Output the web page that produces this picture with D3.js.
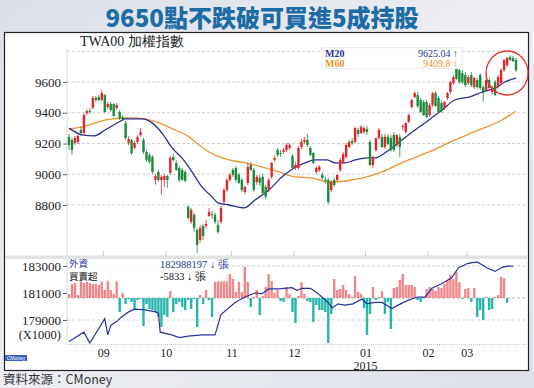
<!DOCTYPE html>
<html>
<head>
<meta charset="utf-8">
<script src="https://cdn.jsdelivr.net/npm/d3@7"></script>
<style>
  body { margin: 0; background: #e3e5ed; }
  svg { display: block; }
</style>
</head>
<body>
<div id="svg-area"></div>
<script>
// daily TWA00 candles: [open, high, low, close]
var candles = [
  [9243, 9262, 9158, 9190], [9223, 9236, 9125, 9158], [9204, 9249, 9190, 9236], [9210, 9268, 9197, 9249],
  [9288, 9308, 9249, 9268], [9268, 9398, 9255, 9385], [9398, 9424, 9385, 9411], [9411, 9431, 9392, 9405],
  [9431, 9509, 9424, 9496], [9496, 9509, 9470, 9483], [9502, 9515, 9476, 9483], [9483, 9548, 9476, 9528],
  [9515, 9522, 9398, 9405], [9437, 9470, 9424, 9457], [9457, 9470, 9405, 9418], [9457, 9463, 9372, 9379],
  [9431, 9463, 9418, 9450], [9405, 9418, 9353, 9366], [9372, 9385, 9346, 9360], [9333, 9346, 9223, 9236],
  [9204, 9249, 9190, 9229], [9223, 9229, 9125, 9138], [9171, 9216, 9158, 9204], [9210, 9255, 9197, 9243],
  [9255, 9301, 9243, 9275], [9223, 9236, 9132, 9145], [9145, 9158, 9080, 9093], [9125, 9138, 9067, 9080],
  [9113, 9125, 9002, 9015], [8963, 9002, 8930, 8989], [9015, 9028, 8950, 8963], [8963, 8996, 8866, 8983],
  [8963, 9002, 8918, 8989], [8989, 8996, 8911, 8963], [9009, 9119, 8996, 9106], [9113, 9132, 9080, 9093],
  [9074, 9093, 9022, 9028], [9041, 9054, 8950, 8963], [9028, 9041, 8957, 8963], [9015, 9028, 8950, 8957],
  [8788, 8801, 8703, 8716], [8690, 8781, 8677, 8768], [8736, 8749, 8625, 8651], [8638, 8651, 8489, 8541],
  [8573, 8671, 8554, 8651], [8664, 8677, 8573, 8599], [8664, 8703, 8645, 8677], [8729, 8781, 8723, 8755],
  [8742, 8762, 8710, 8736], [8736, 8749, 8677, 8690], [8671, 8703, 8612, 8625], [8690, 8794, 8677, 8781],
  [8820, 8911, 8807, 8898], [8898, 8976, 8885, 8963], [8963, 9009, 8950, 8996], [9028, 9041, 8983, 8996],
  [9041, 9054, 8950, 8963], [8996, 9009, 8937, 8944], [8963, 8976, 8885, 8898], [8885, 8924, 8872, 8918],
  [8944, 9074, 8930, 9048], [9060, 9080, 9022, 9028], [9028, 9041, 8885, 8898], [8950, 8996, 8930, 8983],
  [8976, 8996, 8924, 8944], [8983, 9002, 8872, 8879], [8918, 8930, 8840, 8853], [8898, 8976, 8885, 8963],
  [8983, 9080, 8970, 9074], [9093, 9125, 9080, 9106], [9158, 9171, 9113, 9125], [9138, 9158, 9113, 9132],
  [9145, 9171, 9132, 9158], [9158, 9203, 9145, 9190], [9171, 9203, 9158, 9190], [9119, 9132, 9028, 9041],
  [9041, 9080, 9028, 9060], [9041, 9183, 9028, 9171], [9177, 9229, 9164, 9210], [9210, 9242, 9197, 9223],
  [9223, 9262, 9177, 9190], [9171, 9184, 9119, 9125], [9138, 9145, 9067, 9074], [9015, 9054, 9002, 9041],
  [9028, 9060, 9015, 9048], [8996, 9015, 8963, 8976], [8963, 8983, 8937, 8957], [8963, 8976, 8807, 8820],
  [8898, 8963, 8885, 8950], [8963, 8976, 8918, 8930], [8963, 8996, 8950, 8996], [9028, 9106, 9015, 9093],
  [9080, 9145, 9067, 9132], [9113, 9203, 9100, 9190], [9177, 9223, 9171, 9210], [9216, 9236, 9190, 9203],
  [9210, 9308, 9203, 9301], [9288, 9301, 9243, 9262], [9268, 9320, 9262, 9308], [9275, 9314, 9262, 9301],
  [9294, 9314, 9255, 9275], [9210, 9223, 9054, 9060], [9060, 9119, 9041, 9113], [9158, 9236, 9145, 9236],
  [9236, 9301, 9223, 9288], [9243, 9262, 9171, 9177], [9177, 9262, 9164, 9243], [9243, 9262, 9190, 9197],
  [9236, 9255, 9145, 9158], [9255, 9275, 9145, 9158], [9190, 9262, 9177, 9255], [9243, 9262, 9113, 9177],
  [9308, 9327, 9288, 9314], [9275, 9340, 9262, 9333], [9340, 9392, 9333, 9385], [9437, 9489, 9431, 9483],
  [9502, 9541, 9496, 9528], [9515, 9535, 9431, 9444], [9483, 9496, 9398, 9405], [9470, 9483, 9379, 9385],
  [9470, 9483, 9366, 9372], [9385, 9463, 9372, 9450], [9450, 9535, 9437, 9528], [9528, 9541, 9437, 9444],
  [9496, 9509, 9398, 9405], [9463, 9476, 9398, 9411], [9431, 9476, 9418, 9470], [9496, 9535, 9483, 9528],
  [9535, 9606, 9522, 9600], [9593, 9645, 9580, 9632], [9691, 9704, 9613, 9620], [9678, 9691, 9587, 9600],
  [9658, 9678, 9587, 9597], [9645, 9665, 9567, 9580], [9593, 9645, 9580, 9632], [9645, 9665, 9567, 9580],
  [9567, 9632, 9554, 9626], [9613, 9626, 9554, 9567], [9645, 9658, 9548, 9561], [9567, 9580, 9470, 9528],
  [9548, 9626, 9535, 9613], [9613, 9632, 9554, 9561], [9535, 9580, 9515, 9567], [9600, 9613, 9509, 9515],
  [9567, 9645, 9554, 9632], [9593, 9691, 9580, 9678], [9678, 9750, 9665, 9743], [9710, 9762, 9700, 9756],
  [9762, 9775, 9736, 9743], [9756, 9770, 9730, 9736], [9743, 9756, 9665, 9678]
];

// moving averages: [day index, value]
var m20Points = [
  [0, 9300], [4.4, 9256], [8.4, 9249], [12.1, 9288], [16.8, 9340], [18.8, 9360], [24.5, 9360],
  [27.9, 9334], [31.2, 9268], [34.6, 9171], [37.9, 9106], [41.3, 9015], [44.6, 8918], [48, 8853],
  [50, 8814], [53.7, 8800], [58.7, 8781], [62.4, 8833], [67.1, 8898], [71.5, 8983], [75.5, 9041],
  [79.2, 9074], [82.6, 9093], [86.6, 9093], [89.3, 9074], [92.6, 9074], [96, 9093], [100, 9106],
  [102.7, 9106], [107.4, 9158], [111.7, 9223], [116.1, 9288], [120.8, 9353], [125.2, 9418],
  [129.5, 9483], [134.2, 9502], [138.6, 9535], [143, 9561], [146.3, 9600], [150, 9625]
];
var m60Points = [
  [0, 9294], [4.4, 9308], [8.7, 9334], [14.4, 9360], [20.1, 9366], [25.5, 9360], [30.2, 9334],
  [35.6, 9288], [40.3, 9243], [43.6, 9190], [47, 9145], [49.7, 9119], [53.7, 9093], [59.1, 9074],
  [64.8, 9048], [70.5, 9015], [75.8, 8983], [81.5, 8976], [87.2, 8950], [89.3, 8950], [95, 8963],
  [100, 8983], [105, 9015], [111.7, 9074], [120.8, 9145], [129.5, 9223], [137.6, 9288],
  [145.3, 9353], [150, 9410]
];

// foreign investors daily net buy/sell (lots)
var foreignNet = [
  4800, 16800, 18000, 3600, 21600, 18000, 19200, 18000, 16800, 16800, 15600, 20400, 9600, 21600, 9600, 4800,
  21600, -16800, 6000, -7200, -1200, -4800, -14400, -2400, -1200, -33600, -7200, -13200, -14400, -16800,
  -22800, -34800, -20400, -22800, 8400, -16800, -7200, -4800, -10800, -14400, -2400, -13200, -1200, -34800,
  3600, -7200, 9600, -2400, -22800, 19200, 20400, 21600, 22800, 28800, 28800, 22800, 7200, 19200, 7200,
  37200, 19200, -10800, 1200, 9600, -20400, 2400, 13200, 28800, 20400, 6000, 9600, -3600, -4800, 13200,
  4800, -16800, -30000, 2400, 19200, 4800, -3600, -4800, -28800, -8400, -14400, -14400, -16800, -54000,
  -19200, 22800, 9600, 10800, 15600, 9600, 4800, 1200, 26400, 7200, 4800, -12000, -44400, -19200, 13200,
  -2400, 1200, 8400, -19200, -4800, -37200, 12000, 13200, 21600, 28800, 15600, 15600, 15600, 13200, -2400,
  -4800, 1200, 10800, 13200, 10800, 8400, 13200, 12000, 16800, 21600, 27600, 22800, 31200, 19200, -1200,
  10800, 12000, -4800, 12000, -22800, -14400, -26400, 1200, -14400, -13200, 1200, 3600, 25200, 24000, -5833
];

// foreign holdings (thousand lots): [day index, value]
var foreignHold = [
  [0, 177400], [5, 178100], [7, 177300], [12, 179100], [13, 177900], [14, 178600], [16, 178900],
  [18, 179300], [20, 179600], [22, 179800], [25.5, 179750], [29, 179600], [30, 179500], [30.6, 178100],
  [34.5, 177900], [37, 177700], [40, 177800], [44.6, 177900], [49, 177900], [51, 179400], [55.7, 180300],
  [59, 180700], [62.4, 181000], [64.8, 180950], [67, 181300], [70.5, 181300], [74.8, 181400],
  [76.5, 181200], [78.2, 181350], [81, 181350], [83.6, 180950], [86.9, 180300], [88.3, 179900],
  [90.3, 180200], [92.6, 180100], [95.3, 180200], [98.3, 180550], [100, 180200], [102.7, 180300],
  [105, 180300], [108.4, 179850], [110.4, 180100], [113.7, 180450], [117, 180700], [119.5, 180700],
  [121.8, 181350], [125.2, 181700], [128.5, 182150], [130.6, 182850], [133.9, 183200], [137, 183300],
  [140.3, 182850], [143, 182600], [145.3, 182900], [147, 182990], [149, 182988]
];

var monthStarts = [12, 33, 55, 76, 100, 121, 134];
var monthLabels = ["09", "10", "11", "12", "01", "02", "03"];
var priceTicks = [9600, 9400, 9200, 9000, 8800];
var priceGrid = [9800, 9600, 9400, 9200, 9000, 8800];
var holdTicks = [183000, 181000, 179000];

var lastM20 = "9625.04";
var lastM60 = "9409.8";
var lastHold = "182988197";
var lastNet = "-5833";

var serif = "'Liberation Serif', 'DejaVu Serif', serif";
var cjk = "'Noto Sans CJK TC', 'Noto Sans', sans-serif";

// create svg container
var svgWidth = 534;
var svgHeight = 388;
var svg = d3.select("#svg-area").append("svg")
    .attr("width", svgWidth)
    .attr("height", svgHeight);

// background
var grad = svg.append("defs").append("linearGradient")
    .attr("id", "bg")
    .attr("x1", 0).attr("y1", 0).attr("x2", 1).attr("y2", 1);
grad.append("stop").attr("offset", "0%").attr("stop-color", "#dcdfe8");
grad.append("stop").attr("offset", "50%").attr("stop-color", "#eceef3");
grad.append("stop").attr("offset", "100%").attr("stop-color", "#dde0e8");
svg.append("rect").attr("width", svgWidth).attr("height", svgHeight).attr("fill", "url(#bg)");

// title
svg.append("text")
    .attr("x", 262).attr("y", 27)
    .attr("text-anchor", "middle")
    .attr("font-family", cjk)
    .attr("font-weight", 900)
    .attr("font-size", 24)
    .attr("fill", "#1d6ca6")
    .text("9650點不跌破可買進5成持股");

// chart frame
svg.append("rect")
    .attr("x", 4.5).attr("y", 32.5)
    .attr("width", 524).attr("height", 338)
    .attr("fill", "#fff")
    .attr("stroke", "#222")
    .attr("stroke-width", 1.2);

// scales
var left = 67, right = 526;
var x = d3.scaleLinear().domain([0, candles.length - 1]).range([69, 516]);
var y = d3.scaleLinear().domain([8800, 9600]).range([205, 82]);
var yHold = d3.scaleLinear().domain([179000, 183000]).range([320, 266]);
var yNet = d3.scaleLinear().domain([-55200, 48000]).range([344, 258]);

var chartGroup = svg.append("g");

// price panel grid
chartGroup.selectAll(".pgrid")
    .data(priceGrid)
    .enter()
    .append("line")
    .attr("x1", left).attr("x2", right)
    .attr("y1", d => y(d)).attr("y2", d => y(d))
    .attr("stroke", "#cfcfcf")
    .attr("stroke-dasharray", "3,2");

chartGroup.append("line")
    .attr("x1", left).attr("x2", left)
    .attr("y1", 48).attr("y2", 256)
    .attr("stroke", "#d8d8d8");

// separator strip between panels
chartGroup.append("rect")
    .attr("x", 5.5).attr("y", 255.5)
    .attr("width", 522).attr("height", 3.5)
    .attr("fill", "#e2e2e2");

// month ticks at bottom of price panel
chartGroup.selectAll(".mtick")
    .data(monthStarts)
    .enter()
    .append("line")
    .attr("x1", d => x(d - 0.5)).attr("x2", d => x(d - 0.5))
    .attr("y1", 251).attr("y2", 256)
    .attr("stroke", "#cfcfcf");

// price axis labels
var leftAxis = d3.axisLeft(y).tickValues(priceTicks).tickFormat(d3.format("d")).tickSize(4).tickPadding(2);
var yAxis = chartGroup.append("g")
    .attr("transform", `translate(${left}, 0)`)
    .call(leftAxis);
yAxis.select(".domain").remove();
yAxis.selectAll("line").attr("stroke", "#667");
yAxis.selectAll("text")
    .attr("font-family", serif)
    .attr("font-size", 13)
    .attr("fill", "#222");

// moving average lines
var maLine = d3.line()
    .x(d => x(d[0]))
    .y(d => y(d[1]))
    .curve(d3.curveMonotoneX);

chartGroup.append("path")
    .datum(m60Points)
    .attr("d", maLine)
    .attr("fill", "none")
    .attr("stroke", "#ec962c")
    .attr("stroke-width", 1.3);

chartGroup.append("path")
    .datum(m20Points)
    .attr("d", maLine)
    .attr("fill", "none")
    .attr("stroke", "#2a2f98")
    .attr("stroke-width", 1.3);

// candles
var upColor = "#e4262b";
var downColor = "#1c8a3c";
var candleGroup = chartGroup.selectAll(".candle")
    .data(candles)
    .enter()
    .append("g");

candleGroup.append("line")
    .attr("x1", (d, i) => x(i)).attr("x2", (d, i) => x(i))
    .attr("y1", d => y(d[1])).attr("y2", d => y(d[2]))
    .attr("stroke", d => d[3] >= d[0] ? upColor : downColor)
    .attr("stroke-width", 0.8);

candleGroup.append("rect")
    .attr("x", (d, i) => x(i) - 1.2)
    .attr("y", d => y(Math.max(d[0], d[3])))
    .attr("width", 2.4)
    .attr("height", d => Math.max(1, Math.abs(y(d[0]) - y(d[3]))))
    .attr("fill", d => d[3] >= d[0] ? upColor : downColor);

// top labels
chartGroup.append("text")
    .attr("x", 80).attr("y", 46)
    .attr("font-family", serif)
    .attr("font-size", 14)
    .attr("fill", "#222")
    .text("TWA00 加權指數");

chartGroup.append("rect")
    .attr("x", 322).attr("y", 47.5)
    .attr("width", 140).attr("height", 21)
    .attr("fill", "#fff")
    .attr("fill-opacity", 0.85)
    .attr("stroke", "#ececec");

var legendRows = [
    { name: "M20", value: lastM20, color: "#2a3596", y: 57 },
    { name: "M60", value: lastM60, color: "#e8902a", y: 66.5 }
];
legendRows.forEach(function (row) {
    chartGroup.append("text")
        .attr("x", 325).attr("y", row.y)
        .attr("font-family", serif)
        .attr("font-size", 10)
        .attr("font-weight", "bold")
        .attr("fill", row.color)
        .text(row.name);
    chartGroup.append("text")
        .attr("x", 458).attr("y", row.y)
        .attr("text-anchor", "end")
        .attr("font-family", serif)
        .attr("font-size", 10)
        .attr("fill", row.color)
        .text(row.value + " ↑");
});

// red highlight circle
chartGroup.append("ellipse")
    .attr("cx", x(candles.length - 4)).attr("cy", 73)
    .attr("rx", 21).attr("ry", 22)
    .attr("fill", "none")
    .attr("stroke", "#e3342a")
    .attr("stroke-width", 1.3);

//////// lower panel: foreign investors ////////
chartGroup.selectAll(".lgrid")
    .data([183000, 179000])
    .enter()
    .append("line")
    .attr("x1", left).attr("x2", right)
    .attr("y1", d => yHold(d)).attr("y2", d => yHold(d))
    .attr("stroke", "#d0d0d0")
    .attr("stroke-dasharray", "3,2");

chartGroup.append("line")
    .attr("x1", left).attr("x2", right)
    .attr("y1", yNet(0)).attr("y2", yNet(0))
    .attr("stroke", "#b8b8b8")
    .attr("stroke-dasharray", "3,2");

chartGroup.append("line")
    .attr("x1", left).attr("x2", left)
    .attr("y1", 259).attr("y2", 344)
    .attr("stroke", "#d8d8d8");

chartGroup.selectAll(".bar")
    .data(foreignNet)
    .enter()
    .append("rect")
    .attr("x", (d, i) => x(i) - 1.2)
    .attr("y", d => yNet(Math.max(0, d)))
    .attr("width", 2.4)
    .attr("height", d => Math.abs(yNet(d) - yNet(0)))
    .attr("fill", d => d >= 0 ? "#f0878a" : "#26b6ad");

chartGroup.append("path")
    .datum(foreignHold)
    .attr("d", d3.line().x(d => x(d[0])).y(d => yHold(d[1])))
    .attr("fill", "none")
    .attr("stroke", "#2a32a0")
    .attr("stroke-width", 1.2);

var holdAxis = d3.axisLeft(yHold).tickValues(holdTicks).tickFormat(d3.format("d")).tickSize(4).tickPadding(2);
var yAxis2 = chartGroup.append("g")
    .attr("transform", `translate(${left}, 0)`)
    .call(holdAxis);
yAxis2.select(".domain").remove();
yAxis2.selectAll("line").attr("stroke", "#667");
yAxis2.selectAll("text")
    .attr("font-family", serif)
    .attr("font-size", 13)
    .attr("fill", "#222");

chartGroup.append("text")
    .attr("x", 61).attr("y", 338.5)
    .attr("text-anchor", "end")
    .attr("font-family", serif)
    .attr("font-size", 12.5)
    .attr("fill", "#222")
    .text("(X1000)");

// lower legend
chartGroup.append("rect")
    .attr("x", 68).attr("y", 259.5)
    .attr("width", 160).attr("height", 22)
    .attr("fill", "#fff")
    .attr("fill-opacity", 0.88);

chartGroup.append("text")
    .attr("x", 69).attr("y", 267)
    .attr("font-family", cjk).attr("font-size", 9.5)
    .attr("fill", "#2a3596")
    .text("外資");
chartGroup.append("text")
    .attr("x", 69).attr("y", 280)
    .attr("font-family", cjk).attr("font-size", 9.5)
    .attr("fill", "#111")
    .text("買賣超");
chartGroup.append("text")
    .attr("x", 160).attr("y", 267.5)
    .attr("font-family", serif).attr("font-size", 10.5)
    .attr("fill", "#2a3596")
    .text(lastHold + " ↓ 張");
chartGroup.append("text")
    .attr("x", 160).attr("y", 279.5)
    .attr("font-family", serif).attr("font-size", 10.5)
    .attr("fill", "#111")
    .text(lastNet + " ↓ 張");

// bottom axis with months
chartGroup.append("line")
    .attr("x1", left).attr("x2", right)
    .attr("y1", 344.5).attr("y2", 344.5)
    .attr("stroke", "#c8c8c8")
    .attr("stroke-dasharray", "1,1");

var bottomAxis = d3.axisBottom(x)
    .tickValues(monthStarts.map(d => d - 0.5))
    .tickFormat((d, i) => monthLabels[i])
    .tickSize(0)
    .tickPadding(4);
var xAxis = chartGroup.append("g")
    .attr("transform", "translate(0, 344)")
    .call(bottomAxis);
xAxis.select(".domain").remove();
xAxis.selectAll("text")
    .attr("font-family", serif)
    .attr("font-size", 12)
    .attr("fill", "#222");

chartGroup.append("text")
    .attr("x", x(monthStarts[4] - 0.5)).attr("y", 369.5)
    .attr("text-anchor", "middle")
    .attr("font-family", serif)
    .attr("font-size", 12)
    .attr("fill", "#222")
    .text("2015");

// CMoney badge
chartGroup.append("rect")
    .attr("x", 5).attr("y", 355)
    .attr("width", 22).attr("height", 6)
    .attr("fill", "#3b5cc0");
chartGroup.append("text")
    .attr("x", 16).attr("y", 359.8)
    .attr("text-anchor", "middle")
    .attr("font-family", "'Liberation Sans', sans-serif")
    .attr("font-size", 5)
    .attr("fill", "#fff")
    .text("CMoney");

// source
svg.append("text")
    .attr("x", 3).attr("y", 384)
    .attr("font-family", cjk)
    .attr("font-size", 12.5)
    .attr("fill", "#333")
    .text("資料來源：CMoney");
</script>
</body>
</html>
